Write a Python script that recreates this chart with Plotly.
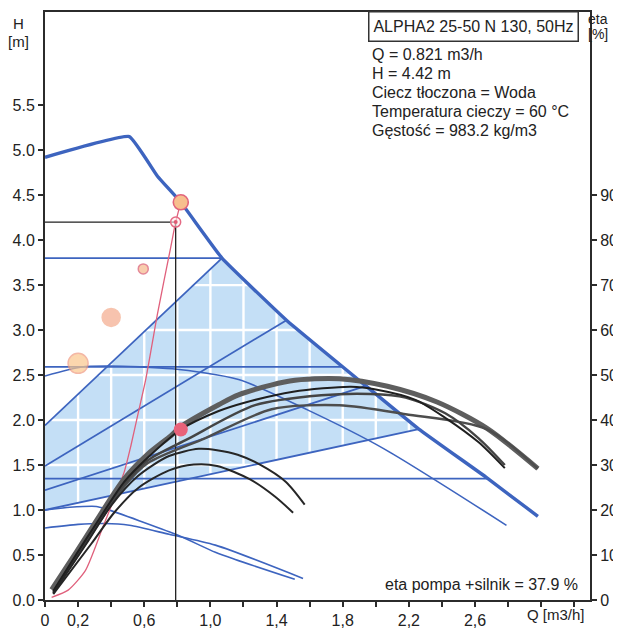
import numpy as np
import plotly.graph_objects as go

# ---------------- data ----------------
# Maximum curve (H [m] vs Q [m3/h])
q_max = [0.0, 0.51, 0.68, 0.821, 1.07, 1.46, 1.94, 2.26, 2.67, 2.98]
h_max = [4.92, 5.15, 4.71, 4.42, 3.80, 3.11, 2.38, 1.90, 1.36, 0.93]

# Constant-pressure lines (head) - run from Q=0 to the max curve
cp_head = [3.80, 2.59, 1.35]
# Proportional-pressure lines: head at Q=0 and Q where they meet the max curve
pp_head0 = [1.94, 1.49, 1.22, 1.00]
pp_q_end = [1.07, 1.46, 1.94, 2.26]

# Blue constant-speed curves
q_c3 = [0.0, 0.22, 0.39, 0.77, 1.17, 1.59, 2.05, 2.79]
h_c3 = [2.49, 2.59, 2.60, 2.57, 2.45, 2.11, 1.68, 0.83]
q_c2 = [0.0, 0.15, 0.31, 0.37, 0.79, 1.03, 1.15, 1.51]
h_c2 = [1.00, 1.03, 1.04, 1.01, 0.73, 0.53, 0.45, 0.23]
q_c1 = [0.0, 0.20, 0.36, 0.51, 0.75, 1.03, 1.56]
h_c1 = [0.80, 0.84, 0.85, 0.83, 0.73, 0.61, 0.24]

# Efficiency curves (eta [%], right axis)
q_e1 = [0.04, 0.19, 0.31, 0.48, 0.62, 0.76, 0.82, 1.05, 1.17, 1.48, 1.78, 2.07, 2.37, 2.67, 2.98]
e_e1 = [2.3, 10.7, 17.6, 27.0, 32.4, 36.5, 38.5, 43.4, 45.6, 48.7, 49.2, 47.5, 44.0, 38.2, 29.2]
q_e2 = [0.05, 0.19, 0.31, 0.48, 0.62, 0.821, 1.05, 1.2, 1.5, 1.85, 2.0, 2.24, 2.42, 2.62, 2.78]
e_e2 = [2.0, 10.2, 17.0, 26.3, 31.6, 37.9, 42.0, 43.8, 46.3, 47.4, 46.8, 44.5, 40.5, 35.1, 29.3]
q_e3 = [0.05, 0.19, 0.31, 0.48, 0.62, 0.865, 1.27, 1.67, 1.97, 2.18, 2.42, 2.62, 2.78]
e_e3 = [1.8, 9.8, 16.6, 25.8, 31.0, 35.8, 43.3, 45.5, 45.8, 45.0, 41.5, 36.0, 30.0]
q_e4 = [0.05, 0.19, 0.31, 0.48, 0.62, 0.97, 1.37, 1.78, 2.18, 2.67, 2.98]
e_e4 = [1.6, 9.4, 16.2, 25.3, 30.4, 36.0, 42.4, 43.3, 41.3, 38.0, 29.2]
q_s1 = [0.05, 0.25, 0.40, 0.56, 0.75, 0.93, 1.04, 1.165, 1.30, 1.455, 1.57]
e_s1 = [1.5, 12.5, 21.0, 27.5, 32.0, 33.6, 33.3, 32.3, 30.1, 26.3, 21.2]
q_s2 = [0.05, 0.28, 0.42, 0.56, 0.75, 0.90, 1.04, 1.24, 1.39, 1.50]
e_s2 = [1.3, 12.5, 19.5, 24.8, 28.8, 30.1, 29.8, 26.8, 23.0, 19.4]

# System curve (red)
q_sys = [0.04, 0.14, 0.245, 0.35, 0.48, 0.52, 0.56, 0.61, 0.68, 0.76, 0.79, 0.821]
h_sys = [0.03, 0.11, 0.33, 0.81, 1.43, 1.72, 2.05, 2.46, 3.18, 3.92, 4.20, 4.42]

# Duty point and marks
duty_q, duty_h, duty_eta = 0.821, 4.42, 37.9
ref_q, ref_h = 0.79, 4.20
bub_q = [0.20, 0.40, 0.594]
bub_h = [2.63, 3.14, 3.68]

x_tickvals = [round(0.2 * i, 1) for i in range(17)]
x_ticktext = ["0", "0,2", "", "0,6", "", "1,0", "", "1,4", "", "1,8", "", "2,2", "", "2,6", "", "", ""]
y_tickvals = [0.5 * i for i in range(12)]
y2_tickvals = [10 * i for i in range(10)]

info_lines = ["Q = 0.821 m3/h", "H = 4.42 m", "Ciecz tłoczona = Woda",
              "Temperatura cieczy = 60 °C", "Gęstość = 983.2 kg/m3"]

# ---------------- layout constants ----------------
# The page body has an 8px margin, so the figure is sized to fill the rest.
OFF = 8
PAGE_W, PAGE_H = 621, 631
W, Hh = PAGE_W - OFF, PAGE_H - OFF
PL, PR, PT, PB = 45, 590, 10, 604          # plot area in page pixels
ML, MT = PL - OFF, PT - OFF
MR, MB = PAGE_W - PR, PAGE_H - PB
PW, PH = PR - PL, PB - PT
Q_RIGHT = 3.295
H_TOP = 6.535
FONT = "Liberation Sans, Arial, sans-serif"
BLUE = "#3d64bf"
AX = "#2b2b2b"


def pxx(x):
    return (x - PL) / PW


def pxy(y):
    return (PB - y) / PH


qd = np.array(q_max[1:])[::-1]
hd = np.array(h_max[1:])[::-1]


def hmax_at(q):
    return float(np.interp(q, q_max, h_max))


def qmax_at(h):
    return float(np.interp(h, hd, qd))


fig = go.Figure()

# ---------- shaded operating area ----------
q_lo, q_hi = pp_q_end[0], pp_q_end[-1]
q_seg = np.linspace(q_lo, q_hi, 60)
h_seg = np.interp(q_seg, q_max, h_max)
poly_x = np.concatenate([[0, 0], q_seg, [0]])
poly_y = np.concatenate([[pp_head0[-1], pp_head0[0]], h_seg, [pp_head0[-1]]])
fig.add_trace(go.Scatter(x=poly_x, y=poly_y, fill="toself", fillcolor="#c4dff6",
                         line=dict(width=0), mode="lines", hoverinfo="skip"))


def inside(px_, py_, vx, vy):
    res = np.zeros(px_.shape, bool)
    n = len(vx)
    j = n - 1
    for i in range(n):
        xi, yi, xj, yj = vx[i], vy[i], vx[j], vy[j]
        if yi != yj:
            c = ((yi > py_) != (yj > py_)) & (px_ < (xj - xi) * (py_ - yi) / (yj - yi) + xi)
            res ^= c
        j = i
    return res


gx, gy = [], []
for qv in x_tickvals[1:]:
    ys = np.linspace(0, H_TOP, 600)
    xs = np.full_like(ys, qv)
    m = inside(xs, ys, poly_x, poly_y)
    ys = np.where(m, ys, np.nan)
    gx += list(xs) + [None]
    gy += list(ys) + [None]
for hv in y_tickvals[1:]:
    xs = np.linspace(0.001, Q_RIGHT, 600)
    ys = np.full_like(xs, hv)
    m = inside(xs, ys, poly_x, poly_y)
    ys = np.where(m, ys, np.nan)
    gx += list(xs) + [None]
    gy += list(ys) + [None]
fig.add_trace(go.Scatter(x=gx, y=gy, mode="lines", line=dict(color="white", width=2.4),
                         connectgaps=False, hoverinfo="skip"))

# ---------- blue lines ----------
for h in cp_head:
    fig.add_trace(go.Scatter(x=[0, qmax_at(h)], y=[h, h], mode="lines",
                             line=dict(color=BLUE, width=1.8)))
for h0, qe in zip(pp_head0, pp_q_end):
    fig.add_trace(go.Scatter(x=[0, qe], y=[h0, hmax_at(qe)], mode="lines",
                             line=dict(color=BLUE, width=1.8)))
for qq, hh in [(q_c3, h_c3), (q_c2, h_c2), (q_c1, h_c1)]:
    fig.add_trace(go.Scatter(x=qq, y=hh, mode="lines",
                             line=dict(color=BLUE, width=1.6, shape="spline", smoothing=0.7)))
fig.add_trace(go.Scatter(x=q_max, y=h_max, mode="lines",
                         line=dict(color=BLUE, width=3.4, shape="spline", smoothing=0.3)))

# ---------- efficiency curves ----------
eta_style = [(q_e1, e_e1, "#5e5e5e", 5.0), (q_e4, e_e4, "#4d4d4d", 2.4),
             (q_e3, e_e3, "#444444", 2.4), (q_e2, e_e2, "#1f1f1f", 2.0),
             (q_s1, e_s1, "#262626", 2.0), (q_s2, e_s2, "#262626", 2.0)]
for qq, ee, col, wd in eta_style:
    fig.add_trace(go.Scatter(x=qq, y=ee, yaxis="y2", mode="lines",
                             line=dict(color=col, width=wd, shape="spline", smoothing=0.8)))

# ---------- system curve and duty marks ----------
fig.add_trace(go.Scatter(x=q_sys, y=h_sys, mode="lines",
                         line=dict(color="#e0607c", width=1.3, shape="spline", smoothing=0.6)))
fig.add_trace(go.Scatter(x=[0, ref_q, ref_q], y=[ref_h, ref_h, 0], mode="lines",
                         line=dict(color="#222222", width=1.3)))

fig.add_trace(go.Scatter(x=bub_q, y=bub_h, mode="markers",
                         marker=dict(size=[20, 18, 10],
                                     color=["#fbc78c", "#f4ab8c", "#f6b98b"],
                                     line=dict(color=["#f09a80", "#f4ab8c", "#d9566c"], width=1.5))))
fig.add_trace(go.Scatter(x=[ref_q], y=[ref_h], mode="markers",
                         marker=dict(size=10, color="rgba(255,235,235,0.6)",
                                     line=dict(color="#e46a84", width=1.5))))
fig.add_trace(go.Scatter(x=[ref_q], y=[ref_h], mode="markers",
                         marker=dict(size=4, color="#e05a74")))
fig.add_trace(go.Scatter(x=[duty_q], y=[duty_h], mode="markers",
                         marker=dict(size=15, color="#f7bf8e",
                                     line=dict(color="#e2647c", width=1.6))))
fig.add_trace(go.Scatter(x=[duty_q], y=[duty_eta], yaxis="y2", mode="markers",
                         marker=dict(size=14, color="#e8627a")))

# ---------- annotations ----------
ann = []
ann.append(dict(text="ALPHA2 25-50 N 130, 50Hz", x=pxx(473), y=pxy(9), xref="paper", yref="paper",
                xanchor="center", yanchor="top", showarrow=False,
                font=dict(family=FONT, size=16, color="#222"),
                bordercolor="#333", borderwidth=1.5, borderpad=2, width=204, height=24,
                bgcolor="white"))
for i, t in enumerate(info_lines):
    ann.append(dict(text=t, x=pxx(370), y=pxy(53 + 19.3 * i), xref="paper", yref="paper",
                    xanchor="left", yanchor="middle", showarrow=False,
                    font=dict(family=FONT, size=16, color="#222")))
for t, x, y, s in [("H", 18, 22, 15), ("[m]", 18, 40, 15), ("eta", 598, 17, 14),
                   ("[%]", 598, 32, 14), ("Q [m3/h]", 556, 619, 15)]:
    ann.append(dict(text=t, x=pxx(x), y=pxy(y), xref="paper", yref="paper",
                    xanchor="center", yanchor="middle", showarrow=False,
                    font=dict(family=FONT, size=s, color="#222")))
ann.append(dict(text="eta pompa +silnik = 37.9 %", x=pxx(580), y=pxy(588), xref="paper", yref="paper",
                xanchor="right", yanchor="middle", showarrow=False,
                font=dict(family=FONT, size=16, color="#222")))

fig.update_layout(
    width=W, height=Hh,
    margin=dict(l=ML, r=MR, t=MT, b=MB, pad=0),
    paper_bgcolor="white", plot_bgcolor="white",
    showlegend=False,
    font=dict(family=FONT, size=16, color="#222"),
    annotations=ann,
    xaxis=dict(range=[0, Q_RIGHT], tickvals=x_tickvals, ticktext=x_ticktext,
               showgrid=False, zeroline=False, showline=True, linecolor=AX, linewidth=2,
               mirror=True, ticks="outside", ticklen=5, tickwidth=1.5, tickcolor=AX,
               tickfont=dict(family=FONT, size=16, color="#222")),
    yaxis=dict(range=[0, H_TOP], tickvals=y_tickvals,
               ticktext=[f"{v:.1f}" for v in y_tickvals],
               showgrid=False, zeroline=False, showline=True, linecolor=AX, linewidth=2,
               ticks="outside", ticklen=5, tickwidth=1.5, tickcolor=AX,
               tickfont=dict(family=FONT, size=16, color="#222")),
    yaxis2=dict(range=[0, H_TOP * 20], tickvals=y2_tickvals, overlaying="y", side="right",
                showgrid=False, zeroline=False, showline=True, linecolor=AX, linewidth=2,
                ticks="outside", ticklen=5, tickwidth=1.5, tickcolor=AX,
                tickfont=dict(family=FONT, size=16, color="#222")),
)

fig.write_html("out.html")
